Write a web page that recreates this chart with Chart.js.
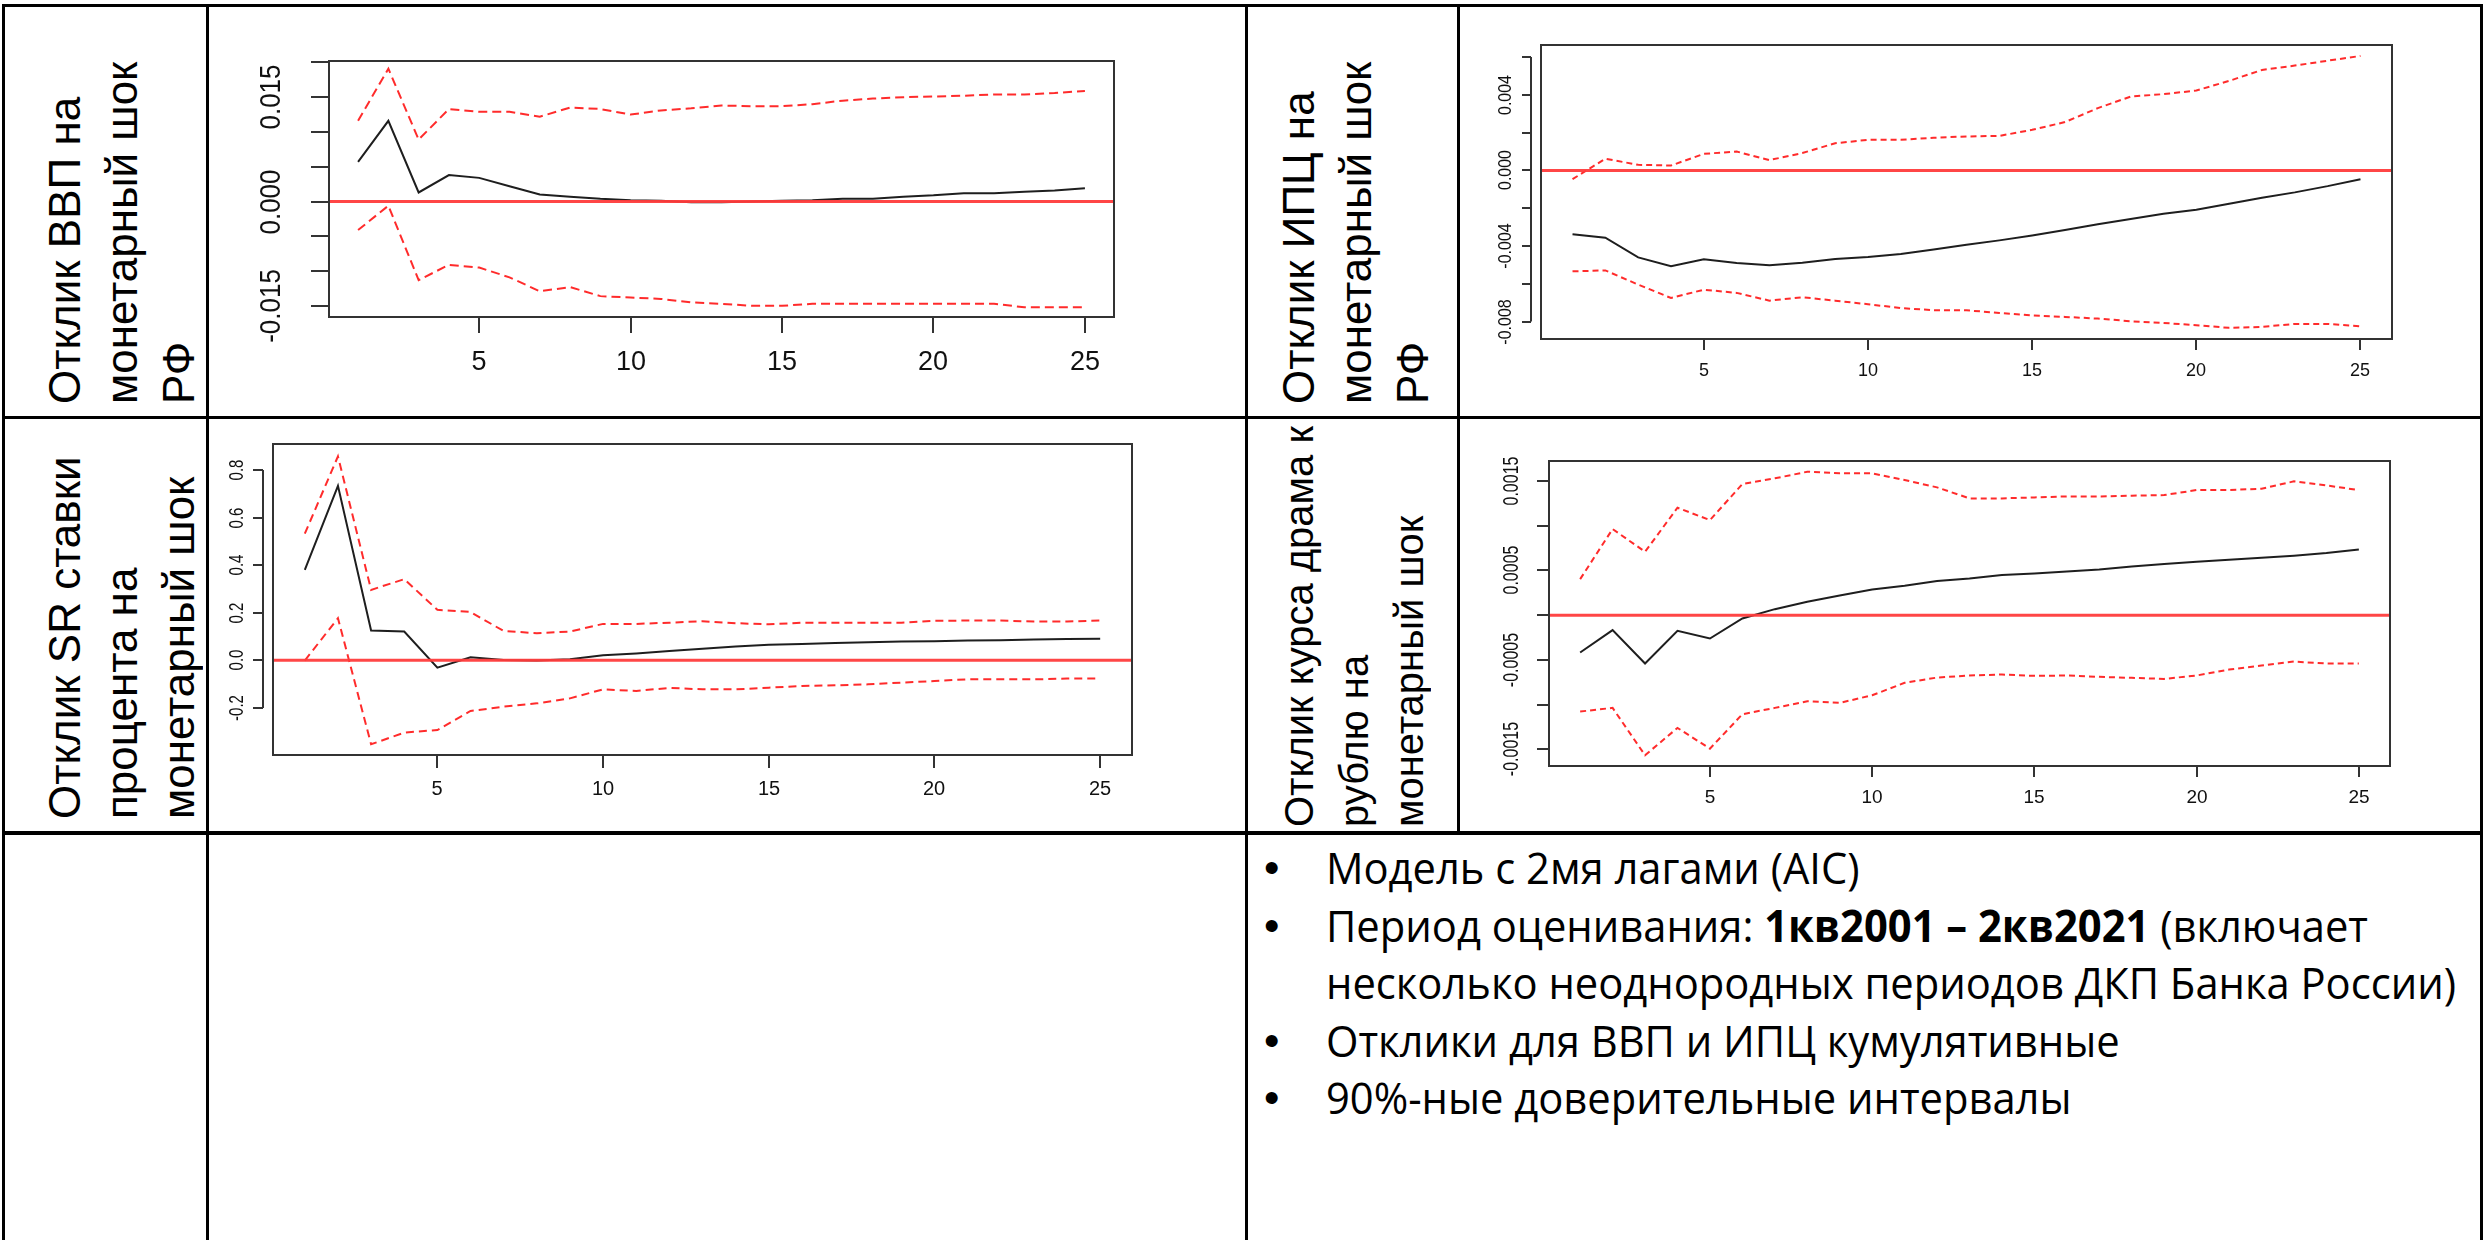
<!DOCTYPE html>
<html lang="ru">
<head>
<meta charset="utf-8">
<title>Отклики на монетарный шок</title>
<script src="https://cdn.jsdelivr.net/npm/chart.js@4.4.1/dist/chart.umd.min.js"></script>
<style>
    html, body { margin: 0; padding: 0; background: #fff; }
    #page { position: relative; width: 2484px; height: 1240px; overflow: hidden; background: #fff; }
    .rule { position: absolute; background: #000; }
    .label { position: absolute; overflow: hidden; }
    .label .inner {
        writing-mode: vertical-rl;
        transform: rotate(180deg);
        box-sizing: border-box;
        width: 100%; height: 100%;
        font-family: "Liberation Sans", Arial, sans-serif;
        font-size: 44px; line-height: 57px;
        color: #000; white-space: nowrap;
    }
    canvas { position: absolute; }
    #notes {
        position: absolute; left: 1326px; top: 839px;
        font-family: "Open Sans", "Noto Sans", sans-serif;
        font-size: 44px; line-height: 57.5px; color: #000;
    }
    #notes .line { position: relative; white-space: nowrap; height: 57.5px; }
    #notes .txt { display: inline-block; transform-origin: 0 50%; }
    #notes .dot { position: absolute; left: -62px; font-family: "Liberation Sans", Arial, sans-serif; }
</style>
</head>
<body>
<div id="page">
    <!-- table grid -->
    <div class="rule" style="left:2px;top:4px;width:2481px;height:3px"></div>
    <div class="rule" style="left:2px;top:416px;width:2481px;height:3px"></div>
    <div class="rule" style="left:2px;top:831px;width:2481px;height:4px"></div>
    <div class="rule" style="left:2px;top:4px;width:3px;height:1236px"></div>
    <div class="rule" style="left:206px;top:4px;width:3px;height:1236px"></div>
    <div class="rule" style="left:1245px;top:4px;width:3px;height:1236px"></div>
    <div class="rule" style="left:1457px;top:4px;width:3px;height:830px"></div>
    <div class="rule" style="left:2480px;top:4px;width:3px;height:1236px"></div>

    <!-- row captions, read bottom to top -->
    <div class="label" style="left:5px;top:7px;width:201px;height:409px">
        <div class="inner" style="padding-right:31px;padding-top:12px">Отклик ВВП на<br>монетарный шок<br>РФ</div>
    </div>
    <div class="label" style="left:1248px;top:7px;width:209px;height:409px">
        <div class="inner" style="padding-right:22px;padding-top:12px">Отклик ИПЦ на<br>монетарный шок<br>РФ</div>
    </div>
    <div class="label" style="left:5px;top:419px;width:201px;height:412px">
        <div class="inner" style="padding-right:31px;padding-top:12px">Отклик SR ставки<br>процента на<br>монетарный шок</div>
    </div>
    <div class="label" style="left:1248px;top:419px;width:209px;height:412px">
        <div class="inner" style="padding-right:24px;padding-top:4px;font-size:40px;line-height:55px">Отклик курса драма к<br>рублю на<br>монетарный шок</div>
    </div>

    <canvas id="gdpChart"></canvas>
    <canvas id="cpiChart"></canvas>
    <canvas id="rateChart"></canvas>
    <canvas id="dramChart"></canvas>

    <div id="notes">
        <div class="line"><span class="dot">•</span><span class="txt">Модель с 2мя лагами (AIC)</span></div>
        <div class="line"><span class="dot">•</span><span class="txt">Период оценивания: <b>1кв2001 – 2кв2021</b> (включает</span></div>
        <div class="line"><span class="txt" id="widest">несколько неоднородных периодов ДКП Банка России)</span></div>
        <div class="line"><span class="dot">•</span><span class="txt">Отклики для ВВП и ИПЦ кумулятивные</span></div>
        <div class="line"><span class="dot">•</span><span class="txt">90%-ные доверительные интервалы</span></div>
    </div>
</div>

<script>
// horizon (quarters after the shock)
const periods = [1, 2, 3, 4, 5, 6, 7, 8, 9, 10, 11, 12, 13, 14, 15, 16, 17, 18, 19, 20, 21, 22, 23, 24, 25];
const xTicks = [5, 10, 15, 20, 25];
const xTickLabels = ["5", "10", "15", "20", "25"];

// GDP response (cumulative)
const gdpIrf = [0.0057, 0.0116, 0.0013, 0.0038, 0.0034, 0.0022, 0.0010, 0.0007, 0.0004, 0.0002, 0.0001, -0.0001, -0.0001, 0.0000, 0.0001, 0.0002, 0.0004, 0.0004, 0.0007, 0.0009, 0.0012, 0.0012, 0.0014, 0.0016, 0.0019];
const gdpUpper = [0.0116, 0.0191, 0.0089, 0.0133, 0.0129, 0.0129, 0.0122, 0.0135, 0.0133, 0.0125, 0.0131, 0.0134, 0.0138, 0.0137, 0.0137, 0.0140, 0.0145, 0.0148, 0.0150, 0.0151, 0.0152, 0.0154, 0.0154, 0.0156, 0.0159];
const gdpLower = [-0.0041, -0.0006, -0.0113, -0.0091, -0.0095, -0.0109, -0.0129, -0.0123, -0.0136, -0.0138, -0.0140, -0.0145, -0.0147, -0.0150, -0.0150, -0.0147, -0.0147, -0.0147, -0.0147, -0.0147, -0.0147, -0.0147, -0.0152, -0.0152, -0.0152];
const gdpYTicks = [-0.015, -0.01, -0.005, 0, 0.005, 0.01, 0.015, 0.02];
const gdpYLabels = ["-0.015", "", "", "0.000", "", "", "0.015", ""];

// CPI response (cumulative)
const cpiIrf = [-0.00338, -0.00356, -0.0046, -0.00507, -0.0047, -0.0049, -0.00502, -0.00488, -0.00469, -0.00458, -0.00442, -0.00418, -0.00393, -0.0037, -0.00344, -0.00315, -0.00285, -0.00257, -0.00229, -0.00208, -0.00176, -0.00145, -0.00116, -0.00083, -0.00046];
const cpiUpper = [-0.00046, 0.00062, 0.0003, 0.00026, 0.00088, 0.001, 0.00055, 0.00092, 0.00144, 0.00162, 0.00162, 0.00173, 0.0018, 0.00183, 0.00215, 0.00256, 0.0033, 0.00391, 0.00404, 0.00423, 0.00474, 0.00532, 0.00555, 0.00581, 0.00606];
const cpiLower = [-0.00534, -0.00529, -0.00604, -0.00675, -0.00631, -0.00648, -0.00689, -0.00671, -0.00689, -0.00708, -0.00728, -0.0074, -0.0074, -0.00754, -0.00767, -0.00775, -0.00784, -0.00798, -0.00807, -0.00819, -0.00833, -0.00828, -0.00812, -0.00812, -0.00825];
const cpiYTicks = [-0.008, -0.006, -0.004, -0.002, 0, 0.002, 0.004, 0.006];
const cpiYLabels = ["-0.008", "", "-0.004", "", "0.000", "", "0.004", ""];

// short rate response
const rateIrf = [0.380, 0.733, 0.125, 0.121, -0.031, 0.013, 0.001, -0.001, 0.004, 0.021, 0.029, 0.039, 0.049, 0.058, 0.065, 0.069, 0.073, 0.076, 0.079, 0.080, 0.083, 0.084, 0.087, 0.090, 0.091];
const rateUpper = [0.532, 0.857, 0.296, 0.341, 0.212, 0.203, 0.123, 0.114, 0.121, 0.153, 0.153, 0.158, 0.164, 0.156, 0.151, 0.158, 0.158, 0.158, 0.158, 0.166, 0.167, 0.167, 0.163, 0.163, 0.167];
const rateLower = [-0.001, 0.177, -0.353, -0.304, -0.293, -0.213, -0.195, -0.181, -0.160, -0.122, -0.129, -0.116, -0.122, -0.122, -0.115, -0.108, -0.105, -0.101, -0.094, -0.087, -0.080, -0.080, -0.080, -0.077, -0.076];
const rateYTicks = [-0.2, 0, 0.2, 0.4, 0.6, 0.8];
const rateYLabels = ["-0.2", "0.0", "0.2", "0.4", "0.6", "0.8"];

// dram / ruble exchange rate response
const dramIrf = [-0.000418, -0.000168, -0.000541, -0.000175, -0.000261, -0.000037, 0.000067, 0.000149, 0.00022, 0.000287, 0.000328, 0.000381, 0.00041, 0.000448, 0.000466, 0.000489, 0.000511, 0.000545, 0.000571, 0.000597, 0.000619, 0.000642, 0.000664, 0.000694, 0.000735];
const dramUpper = [0.000403, 0.000963, 0.000709, 0.001201, 0.001063, 0.001466, 0.00153, 0.001604, 0.001586, 0.001586, 0.001511, 0.001429, 0.001306, 0.001306, 0.001317, 0.001328, 0.001328, 0.001336, 0.001343, 0.001399, 0.001399, 0.001414, 0.001496, 0.001451, 0.001399];
const dramLower = [-0.001078, -0.001037, -0.001567, -0.001261, -0.001493, -0.001108, -0.001037, -0.000963, -0.000981, -0.000896, -0.000757, -0.000698, -0.000675, -0.000664, -0.000679, -0.000675, -0.00069, -0.000701, -0.000713, -0.000675, -0.000608, -0.000563, -0.000519, -0.000541, -0.000541];
const dramYTicks = [-0.0015, -0.001, -0.0005, 0, 0.0005, 0.001, 0.0015];
const dramYLabels = ["-0.0015", "", "-0.0005", "", "0.0005", "", "0.0015"];

const xMin = 0.04, xMax = 25.96;
const labelFont = '"Liberation Sans", Arial, sans-serif';

function toPoints(values) {
    return values.map((v, i) => ({x: periods[i], y: v}));
}

// base-R look: box round the plot, ticks outside, rotated y labels
function rAxes(cfg) {
    return {
        id: "rAxes",
        afterDraw(chart) {
            const {ctx, chartArea: a, scales: {x, y}} = chart;
            ctx.save();
            ctx.strokeStyle = "#333";
            ctx.lineWidth = 2;
            ctx.strokeRect(a.left, a.top, a.right - a.left, a.bottom - a.top);

            // x axis
            ctx.fillStyle = "#111";
            ctx.font = cfg.xFont + "px " + labelFont;
            ctx.textAlign = "center";
            ctx.textBaseline = "middle";
            xTicks.forEach((v, i) => {
                const px = Math.round(x.getPixelForValue(v));
                ctx.beginPath();
                ctx.moveTo(px, a.bottom);
                ctx.lineTo(px, a.bottom + cfg.xTickLen);
                ctx.stroke();
                ctx.fillText(xTickLabels[i], px, a.bottom + cfg.xLabelGap);
            });

            // y axis
            const ax = a.left - cfg.yAxisGap;
            const first = y.getPixelForValue(cfg.yTicks[0]);
            const last = y.getPixelForValue(cfg.yTicks[cfg.yTicks.length - 1]);
            ctx.beginPath();
            ctx.moveTo(ax, first);
            ctx.lineTo(ax, last);
            ctx.stroke();
            ctx.font = cfg.yFont + "px " + labelFont;
            cfg.yTicks.forEach((v, i) => {
                const py = Math.round(y.getPixelForValue(v));
                ctx.beginPath();
                ctx.moveTo(ax, py);
                ctx.lineTo(ax - cfg.yTickLen, py);
                ctx.stroke();
                if (cfg.yLabels[i]) {
                    ctx.save();
                    ctx.translate(a.left - cfg.yLabelGap, py);
                    ctx.rotate(-Math.PI / 2);
                    ctx.scale(1, cfg.yStretch);
                    ctx.fillText(cfg.yLabels[i], 0, 0);
                    ctx.restore();
                }
            });
            ctx.restore();
        }
    };
}

function generateChart(id, cell, box, yMin, yMax, irf, upper, lower, axes) {
    const canvas = document.getElementById(id);
    canvas.width = cell.w;
    canvas.height = cell.h;
    canvas.style.left = cell.x + "px";
    canvas.style.top = cell.y + "px";

    const band = {borderColor: "rgba(255, 20, 20, 0.9)", borderWidth: 2, borderDash: axes.dash};

    new Chart(canvas.getContext("2d"), {
        type: "line",
        data: {
            datasets: [
                {data: [{x: xMin, y: 0}, {x: xMax, y: 0}], borderColor: "rgba(255, 60, 60, 0.95)", borderWidth: 3},
                Object.assign({data: toPoints(upper)}, band),
                Object.assign({data: toPoints(lower)}, band),
                {data: toPoints(irf), borderColor: "#1e1e1e", borderWidth: 2}
            ]
        },
        options: {
            responsive: false,
            animation: false,
            events: [],
            layout: {
                padding: {
                    left: box.l - cell.x,
                    top: box.t - cell.y,
                    right: cell.x + cell.w - box.r,
                    bottom: cell.y + cell.h - box.b
                }
            },
            elements: {point: {radius: 0}, line: {tension: 0}},
            scales: {
                x: {type: "linear", min: xMin, max: xMax, display: false},
                y: {type: "linear", min: yMin, max: yMax, display: false}
            },
            plugins: {
                legend: {display: false},
                tooltip: {enabled: false}
            }
        },
        plugins: [rAxes(axes)]
    });
}

generateChart("gdpChart",
    {x: 209, y: 7, w: 1036, h: 409}, {l: 329, t: 61, r: 1114, b: 317},
    -0.0166, 0.0202, gdpIrf, gdpUpper, gdpLower,
    {yTicks: gdpYTicks, yLabels: gdpYLabels, dash: [9, 5],
     xFont: 27, xTickLen: 16, xLabelGap: 46,
     yFont: 26, yStretch: 1.15, yAxisGap: 0, yTickLen: 18, yLabelGap: 57});

generateChart("cpiChart",
    {x: 1460, y: 7, w: 1020, h: 409}, {l: 1541, t: 45, r: 2392, b: 339},
    -0.00892, 0.00664, cpiIrf, cpiUpper, cpiLower,
    {yTicks: cpiYTicks, yLabels: cpiYLabels, dash: [6, 4],
     xFont: 18, xTickLen: 11, xLabelGap: 32,
     yFont: 16, yStretch: 1.2, yAxisGap: 10, yTickLen: 9, yLabelGap: 35});

generateChart("rateChart",
    {x: 209, y: 419, w: 1036, h: 412}, {l: 273, t: 444, r: 1132, b: 755},
    -0.398, 0.909, rateIrf, rateUpper, rateLower,
    {yTicks: rateYTicks, yLabels: rateYLabels, dash: [8, 5],
     xFont: 20, xTickLen: 13, xLabelGap: 34,
     yFont: 15, yStretch: 1.3, yAxisGap: 10, yTickLen: 10, yLabelGap: 35});

generateChart("dramChart",
    {x: 1460, y: 419, w: 1020, h: 412}, {l: 1549, t: 461, r: 2390, b: 766},
    -0.001687, 0.001724, dramIrf, dramUpper, dramLower,
    {yTicks: dramYTicks, yLabels: dramYLabels, dash: [6, 4],
     xFont: 19, xTickLen: 11, xLabelGap: 32,
     yFont: 16, yStretch: 1.35, yAxisGap: 0, yTickLen: 12, yLabelGap: 37});

// stretch the note text so the long line ends where it does on the slide
const widest = document.getElementById("widest").getBoundingClientRect().width;
let k = 1130 / widest;
k = Math.min(1.2, Math.max(0.8, k));
document.querySelectorAll("#notes .txt").forEach(el => {
    el.style.transform = "scaleX(" + k + ")";
});
</script>
</body>
</html>
